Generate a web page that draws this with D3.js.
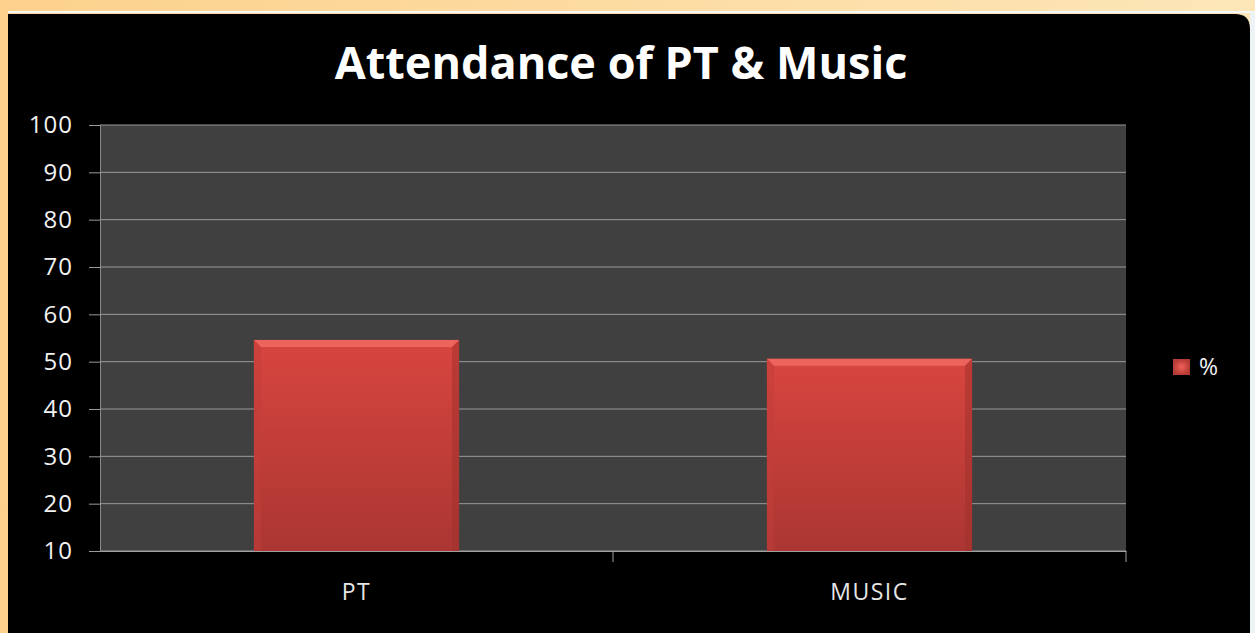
<!DOCTYPE html>
<meta charset="utf-8">
<head>
    <style>
        body {margin: 0; background: #fde2ad; overflow: hidden;}
        text {font-family: "Open Sans", sans-serif;}
    </style>
    <script src="https://d3js.org/d3.v7.min.js"></script>
</head>
<body>
<script>

    // chart data
    var categories = ["PT", "MUSIC"],
        values = [54.6, 50.6],
        yTicks = [10, 20, 30, 40, 50, 60, 70, 80, 90, 100],
        seriesName = "%",
        title = "Attendance of PT & Music";

    var W = 1255, H = 633;

    var plot = {left: 100, right: 1126, top: 125, bottom: 551};

    var svg = d3.select("body").append("svg")
        .attr("width", W)
        .attr("height", H);

    var defs = svg.append("defs");

    var bg = defs.append("linearGradient").attr("id", "bg")
        .attr("x1", 0).attr("x2", 1).attr("y1", 0).attr("y2", 0);
    bg.append("stop").attr("offset", "0%").attr("stop-color", "#fcd18c");
    bg.append("stop").attr("offset", "100%").attr("stop-color", "#fde6b8");

    var barGrad = defs.append("linearGradient").attr("id", "barGrad")
        .attr("x1", 0).attr("x2", 0).attr("y1", 0).attr("y2", 1);
    barGrad.append("stop").attr("offset", "0%").attr("stop-color", "#d8453f");
    barGrad.append("stop").attr("offset", "100%").attr("stop-color", "#ab3632");

    var legGrad = defs.append("radialGradient").attr("id", "legGrad");
    legGrad.append("stop").attr("offset", "0%").attr("stop-color", "#f0625a");
    legGrad.append("stop").attr("offset", "100%").attr("stop-color", "#b63a35");

    // spreadsheet behind the chart
    svg.append("rect").attr("width", W).attr("height", H).attr("fill", "url(#bg)");
    svg.append("line")
        .attr("x1", 8).attr("x2", W).attr("y1", 12).attr("y2", 12)
        .attr("stroke", "#f4f6f8").attr("stroke-width", 2);
    svg.append("rect")
        .attr("x", 1250).attr("y", 12).attr("width", 5).attr("height", H)
        .attr("fill", "#eef3f6");

    // black chart area, rounded top right corner
    svg.append("path")
        .attr("d", "M8,14 H1235 Q1250,14 1250,29 V633 H8 Z")
        .attr("fill", "#000");

    svg.append("text")
        .attr("x", 621).attr("y", 79)
        .attr("text-anchor", "middle")
        .attr("fill", "#fff")
        .attr("font-size", 45).attr("font-weight", 700)
        .text(title);

    var x = d3.scaleBand()
        .domain(categories)
        .range([plot.left, plot.right])
        .paddingInner(0.6)
        .paddingOuter(0.3);

    var xCell = d3.scaleBand()
        .domain(categories)
        .range([plot.left, plot.right]);

    var y = d3.scaleLinear()
        .domain([10, 100])
        .range([plot.bottom, plot.top]);

    svg.append("rect")
        .attr("x", plot.left).attr("y", plot.top)
        .attr("width", plot.right - plot.left)
        .attr("height", plot.bottom - plot.top)
        .attr("fill", "#404040");

    // gridlines + y axis
    var yAxis = svg.append("g")
        .attr("transform", "translate(" + plot.left + ",0)")
        .call(d3.axisLeft(y).tickValues(yTicks).tickSize(11).tickPadding(16));
    yAxis.select(".domain").attr("stroke", "#8a8a8a");
    yAxis.selectAll(".tick line").attr("stroke", "#9a9a9a");
    yAxis.selectAll(".tick text")
        .attr("fill", "#f2f2f2")
        .attr("font-size", 24)
        .attr("letter-spacing", 1)
        .attr("font-family", "'Open Sans', sans-serif");

    svg.append("g").selectAll("line")
        .data(yTicks)
      .enter().append("line")
        .attr("x1", plot.left).attr("x2", plot.right)
        .attr("y1", function(d) {return y(d)})
        .attr("y2", function(d) {return y(d)})
        .attr("stroke", "#9a9a9a").attr("stroke-width", 1);

    // x axis
    var xAxis = svg.append("g")
        .attr("transform", "translate(0," + plot.bottom + ")")
        .call(d3.axisBottom(x).tickSize(0).tickPadding(33));
    xAxis.select(".domain").attr("stroke", "#a0a0a0");
    xAxis.selectAll(".tick text")
        .attr("fill", "#e6e6e6")
        .attr("font-size", 23)
        .attr("letter-spacing", 1.5)
        .attr("font-family", "'Open Sans', sans-serif");

    // category separator ticks
    svg.append("g").selectAll("line")
        .data(categories)
      .enter().append("line")
        .attr("x1", function(d) {return xCell(d) + xCell.bandwidth()})
        .attr("x2", function(d) {return xCell(d) + xCell.bandwidth()})
        .attr("y1", plot.bottom).attr("y2", plot.bottom + 11)
        .attr("stroke", "#a0a0a0");

    // bars
    var bars = svg.append("g").selectAll("g")
        .data(values)
      .enter().append("g");

    bars.append("rect")
        .attr("x", function(d, i) {return x(categories[i])})
        .attr("y", function(d) {return y(d)})
        .attr("width", x.bandwidth())
        .attr("height", function(d) {return plot.bottom - y(d)})
        .attr("fill", "url(#barGrad)");

    var bev = 7;
    // top bevel
    bars.append("path")
        .attr("d", function(d, i) {
            var x0 = x(categories[i]), x1 = x0 + x.bandwidth(), t = y(d);
            return "M" + x0 + "," + t + "H" + x1 + "L" + (x1 - bev) + "," + (t + bev) +
                "H" + (x0 + bev) + "Z";
        })
        .attr("fill", "#ec645b");
    // left bevel
    bars.append("path")
        .attr("d", function(d, i) {
            var x0 = x(categories[i]), t = y(d);
            return "M" + x0 + "," + t + "L" + (x0 + bev) + "," + (t + bev) +
                "V" + plot.bottom + "H" + x0 + "Z";
        })
        .attr("fill", "#c23e39").attr("opacity", 0.5);
    // right bevel
    bars.append("path")
        .attr("d", function(d, i) {
            var x1 = x(categories[i]) + x.bandwidth(), t = y(d);
            return "M" + x1 + "," + t + "L" + (x1 - bev) + "," + (t + bev) +
                "V" + plot.bottom + "H" + x1 + "Z";
        })
        .attr("fill", "#9e302c").attr("opacity", 0.5);

    // legend
    var legend = svg.append("g").attr("transform", "translate(1173,359)");
    legend.append("rect")
        .attr("width", 17).attr("height", 16)
        .attr("fill", "url(#legGrad)");
    legend.append("text")
        .attr("x", 26).attr("y", 16)
        .attr("fill", "#f2f2f2")
        .attr("font-size", 23)
        .text(seriesName);

</script>
</body>
